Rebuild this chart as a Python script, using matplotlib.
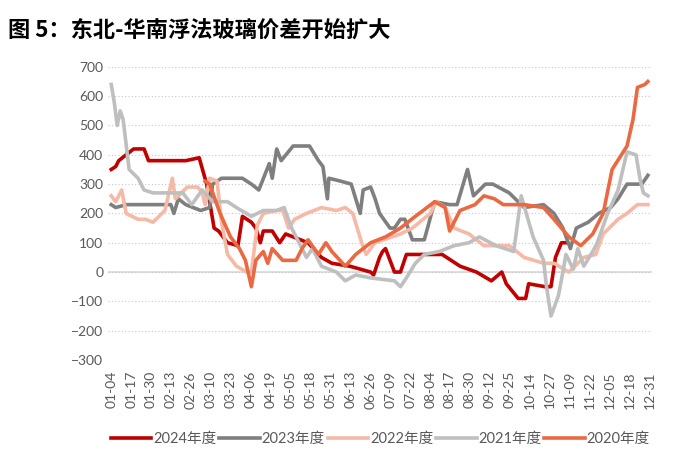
import matplotlib
matplotlib.use("Agg")
import matplotlib.pyplot as plt
from matplotlib.ticker import MultipleLocator

plt.rcParams["font.family"] = ["Lato", "Noto Sans CJK SC", "DejaVu Sans"]

# x = day offset from 01-04 (ticks spread evenly to 12-31 at day 361)
tick_labels = ["01-04", "01-17", "01-30", "02-13", "02-26", "03-10", "03-23", "04-06",
               "04-19", "05-05", "05-18", "05-31", "06-13", "06-26", "07-09", "07-22",
               "08-04", "08-17", "08-30", "09-12", "09-25", "10-14", "10-27", "11-09",
               "11-22", "12-05", "12-18", "12-31"]

x24 = [0, 3, 5, 10, 15, 22, 25, 50, 59, 64, 69, 72, 78, 85, 88, 94, 97, 100, 102, 108, 113, 117,
       127, 132, 141, 148, 160, 174, 176, 180, 182, 184, 190, 194, 198, 207, 222, 234, 245, 255,
       262, 265, 273, 278, 280, 291, 295, 298, 302, 305]
y24 = [350, 360, 380, 400, 420, 420, 380, 380, 390, 300, 150, 140, 100, 90, 190, 170, 150, 100,
       140, 140, 100, 130, 110, 100, 50, 30, 20, 0, -10, 50, 70, 80, 0, 0, 60, 60, 60, 20, 0,
       -30, 0, -40, -90, -90, -40, -50, -50, 50, 100, 100]

x23 = [0, 3, 10, 40, 42, 45, 50, 60, 66, 68, 74, 88, 94, 99, 106, 108, 111, 114, 122, 133, 139,
       142, 145, 146, 154, 161, 167, 169, 174, 177, 180, 187, 190, 194, 197, 202, 210, 217, 227,
       232, 239, 243, 251, 256, 267, 273, 277, 290, 297, 303, 308, 312, 320, 327, 335, 340, 346,
       353, 356, 360]
y23 = [230, 220, 230, 230, 200, 250, 230, 210, 220, 300, 320, 320, 300, 280, 370, 320, 420, 380,
       430, 430, 380, 360, 250, 320, 310, 300, 200, 280, 290, 250, 200, 150, 150, 180, 180, 110,
       110, 240, 230, 230, 350, 260, 300, 300, 270, 240, 220, 230, 200, 150, 80, 150, 170, 200,
       220, 250, 300, 300, 300, 330]

x22 = [0, 3, 7, 10, 18, 23, 28, 36, 41, 43, 51, 58, 61, 63, 66, 71, 74, 78, 84, 91, 94, 98, 102,
       111, 115, 119, 123, 131, 141, 151, 157, 162, 168, 171, 177, 194, 202, 214, 218, 224, 230,
       240, 250, 267, 277, 290, 297, 307, 317, 325, 330, 340, 346, 353, 360]
y22 = [260, 240, 280, 200, 180, 180, 170, 210, 320, 250, 290, 290, 270, 230, 320, 310, 170, 60,
       20, 0, 0, 160, 200, 210, 210, 150, 180, 200, 220, 210, 220, 200, 100, 60, 100, 130, 150,
       200, 240, 220, 150, 130, 90, 90, 50, 30, 30, 0, 50, 60, 130, 180, 200, 230, 230]

x21 = [0, 2, 4, 6, 8, 12, 18, 22, 28, 41, 48, 54, 61, 68, 78, 84, 94, 102, 111, 116, 121, 126,
       131, 135, 141, 151, 157, 164, 174, 190, 194, 198, 204, 210, 220, 230, 240, 247, 258, 270,
       275, 283, 290, 292, 295, 300, 303, 305, 310, 313, 317, 323, 326, 333, 340, 346, 352, 355,
       357, 360]
y21 = [640, 580, 500, 550, 520, 350, 320, 280, 270, 270, 270, 230, 280, 240, 240, 220, 190, 210,
       210, 220, 150, 100, 50, 80, 20, 0, -30, -10, -20, -30, -50, -20, 30, 60, 70, 90, 100, 120,
       90, 70, 260, 120, 40, -50, -150, -80, 0, 60, 10, 80, 20, 70, 100, 200, 280, 410, 400, 310,
       270, 260]

x20 = [63, 66, 73, 80, 86, 90, 94, 97, 102, 105, 108, 115, 124, 128, 132, 139, 144, 148, 157,
       164, 174, 184, 194, 204, 217, 224, 227, 234, 244, 250, 257, 263, 277, 290, 297, 307, 315,
       323, 330, 336, 346, 350, 353, 358, 360]
y20 = [310, 300, 200, 120, 80, 40, -50, 40, 70, 30, 80, 40, 40, 80, 110, 60, 100, 70, 20, 60,
       100, 120, 150, 190, 240, 220, 140, 210, 230, 260, 250, 230, 230, 220, 180, 120, 90, 130,
       200, 350, 430, 520, 630, 640, 650]

series = [
    ("2024年度", x24, y24, "#C00000"),
    ("2023年度", x23, y23, "#7F7F7F"),
    ("2022年度", x22, y22, "#F6B9A6"),
    ("2021年度", x21, y21, "#BFBFBF"),
    ("2020年度", x20, y20, "#EB6942"),
]

fig = plt.figure(figsize=(6.94, 4.58), dpi=100)
ax = fig.add_axes([0.156, 0.214, 0.784, 0.64])

for label, xs, ys, color in series:
    ax.plot(xs, ys, color=color, linewidth=2.6, label=label, solid_joinstyle="round")

ax.set_xlim(-2, 363)
ax.set_ylim(-300, 700)
ax.yaxis.set_major_locator(MultipleLocator(100))
n = len(tick_labels)
ax.set_xticks([i * 361 / (n - 1) for i in range(n)])
ax.set_xticklabels(tick_labels, rotation=90)
ax.tick_params(axis="both", length=0, colors="#595959", labelsize=10)
ax.tick_params(axis="x", pad=8)
ax.grid(axis="y", linestyle=(0, (1, 2)), color="#C8C8C8", linewidth=0.8)
ax.axhline(0, color="#D9D9D9", linewidth=1.2, zorder=0)
for sp in ax.spines.values():
    sp.set_visible(False)

ax.legend(loc="upper center", bbox_to_anchor=(0.5, -0.2), ncol=5, frameon=False,
          fontsize=10.5, handlelength=2.8, handletextpad=0.1, columnspacing=0.2,
          labelcolor="#595959")

fig.text(0.012, 0.935, "图 5：东北-华南浮法玻璃价差开始扩大", fontsize=16, fontweight="bold",
         family=["Noto Sans CJK SC", "DejaVu Sans"], va="center")

fig.savefig("out.png", dpi=100)
